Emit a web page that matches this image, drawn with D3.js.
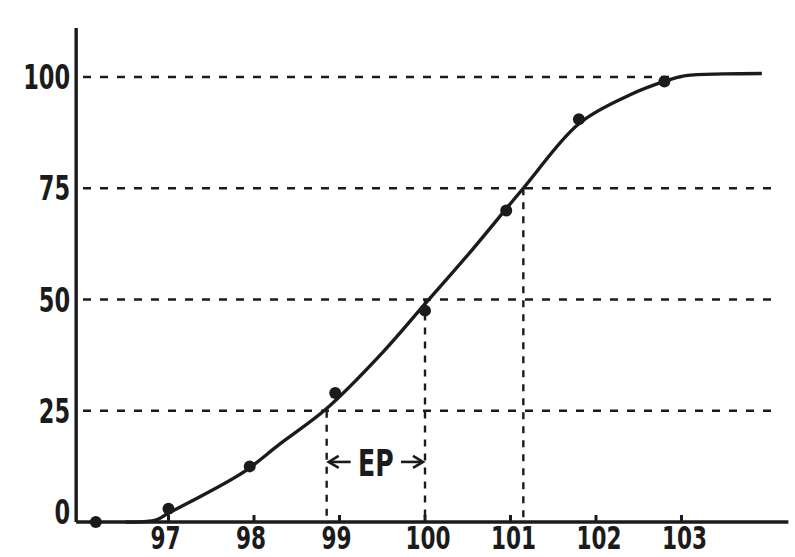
<!DOCTYPE html>
<html><head><meta charset="utf-8">
<script src="https://cdn.jsdelivr.net/npm/d3@7"></script>
<style>
html,body{margin:0;padding:0;background:#fff;}
svg{display:block;}
.lbl{font-family:"Liberation Sans Narrow","DejaVu Sans Condensed","Liberation Sans",sans-serif;font-weight:bold;fill:#1b1b1b;}
</style></head>
<body><svg id="c" width="795" height="557"></svg>
<script>
// observed points (x value, percent)
const pointX = [96.15, 97.0, 97.95, 98.95, 100.0, 100.95, 101.8, 102.8];
const pointY = [0, 3, 12.5, 29, 47.5, 70, 90.5, 99];
// fitted smooth curve
const curveX = [96.5, 96.85, 97.0, 97.4, 97.9, 98.3, 98.85, 99.5, 100.0, 100.5, 101.15, 101.8, 102.4, 102.8, 103.05, 103.5, 103.94];
const curveY = [0, 0.4, 2, 6, 11.5, 17.5, 25.5, 38, 49, 60, 75, 89.5, 96, 99, 100.3, 100.7, 100.8];
// axis ticks
const xTicks = [97, 98, 99, 100, 101, 102, 103];
const yTicks = [0, 25, 50, 75, 100];
// horizontal dashed guides and their right ends
const hGuides = [25, 50, 75, 100];
const hGuideEnds = [104.1, 104.1, 104.1, 103.0];
// vertical dashed drops (x value, level)
const vGuideX = [98.85, 100.0, 101.15];
const vGuideLevel = [25, 50, 75];
// probable error span
const epSpan = [98.85, 100.0];
const epLevel = 13.5;
const epLabel = "EP";

const ink = "#1b1b1b";
const svg = d3.select("#c");
const x = d3.scaleLinear().domain([96, 104]).range([83, 767]);
const y = d3.scaleLinear().domain([0, 100]).range([522, 77]);
const xMin = 95.92, xMax = 104.25, yMax = 111;
const sy = 1.34; // tall narrow lettering

// horizontal guides
svg.append("g").selectAll("line").data(hGuides).join("line")
  .attr("x1", x(96.0)).attr("x2", (d,i) => x(hGuideEnds[i]))
  .attr("y1", d => y(d)).attr("y2", d => y(d))
  .attr("stroke", ink).attr("stroke-width", 2.6).attr("stroke-dasharray", "8,9");

// vertical guides
svg.append("g").selectAll("line").data(vGuideX).join("line")
  .attr("x1", d => x(d)).attr("x2", d => x(d))
  .attr("y1", (d,i) => y(vGuideLevel[i])).attr("y2", y(0))
  .attr("stroke", ink).attr("stroke-width", 2.4).attr("stroke-dasharray", "7,7");

// axes
svg.append("line").attr("x1", x(xMin)).attr("x2", x(xMin)).attr("y1", y(yMax)).attr("y2", y(0))
  .attr("stroke", ink).attr("stroke-width", 3.4);
svg.append("line").attr("x1", x(xMin)).attr("x2", x(xMax)).attr("y1", y(0)).attr("y2", y(0))
  .attr("stroke", ink).attr("stroke-width", 3.4);

// x ticks (pointing up)
svg.append("g").selectAll("line").data(xTicks).join("line")
  .attr("x1", d => x(d)).attr("x2", d => x(d)).attr("y1", y(0)).attr("y2", y(0) - 7)
  .attr("stroke", ink).attr("stroke-width", 3);

// tick labels
svg.append("g").selectAll("text").data(xTicks).join("text").attr("class","lbl")
  .attr("transform", d => `translate(${x(d) + (d >= 100 ? 3 : -3)},${y(0) + 27}) scale(1,${sy})`)
  .attr("text-anchor","middle").attr("font-size", 24).text(d => d);
svg.append("g").selectAll("text").data(yTicks).join("text").attr("class","lbl")
  .attr("transform", d => `translate(${x(xMin) - 6},${d === 0 ? y(d) + 2 : y(d) + 12}) scale(1,${sy})`)
  .attr("text-anchor","end").attr("font-size", 25).text(d => d);

// curve
const line = d3.line().x(d => x(d[0])).y(d => y(d[1])).curve(d3.curveCatmullRom.alpha(0.5));
svg.append("path").datum(curveX.map((v,i) => [v, curveY[i]]))
  .attr("d", line).attr("fill","none").attr("stroke", ink).attr("stroke-width", 3.4);

// points
svg.append("g").selectAll("circle").data(pointX).join("circle")
  .attr("cx", d => x(d)).attr("cy", (d,i) => y(pointY[i])).attr("r", 6).attr("fill", ink);

// EP annotation
const ey = y(epLevel), ex0 = x(epSpan[0]), ex1 = x(epSpan[1]);
const g = svg.append("g").attr("stroke", ink).attr("stroke-width", 2.6).attr("fill","none");
g.append("path").attr("d", `M${ex0+12},${ey-6} L${ex0+2},${ey} L${ex0+12},${ey+6}`);
g.append("path").attr("d", `M${ex1-12},${ey-6} L${ex1-2},${ey} L${ex1-12},${ey+6}`);
g.append("line").attr("x1", ex0+4).attr("x2", ex0+24).attr("y1", ey).attr("y2", ey);
g.append("line").attr("x1", ex1-4).attr("x2", ex1-24).attr("y1", ey).attr("y2", ey);
svg.append("text").attr("class","lbl")
  .attr("transform", `translate(${(ex0+ex1)/2},${ey + 14}) scale(1,${sy})`)
  .attr("text-anchor","middle").attr("font-size", 28).text(epLabel);
</script></body></html>
